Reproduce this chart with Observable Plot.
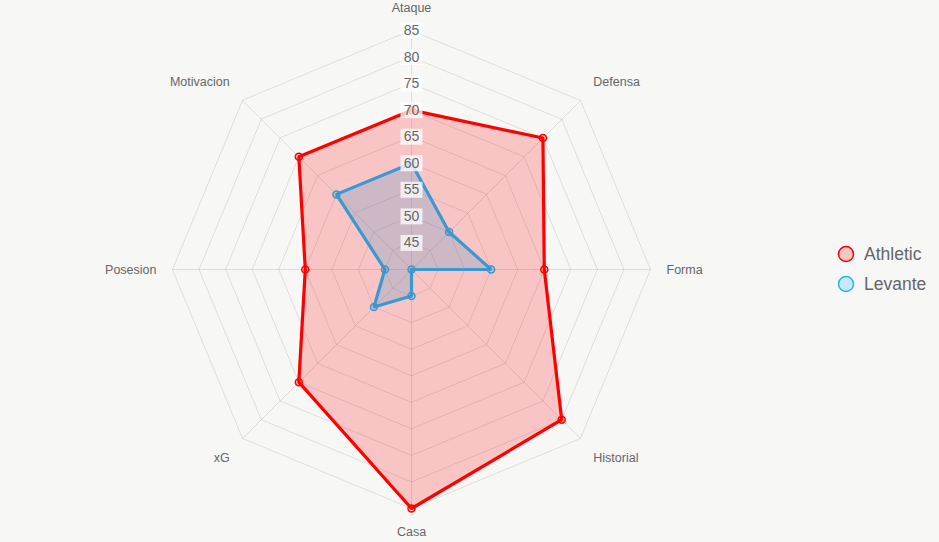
<!DOCTYPE html>
<html>
<head>
<meta charset="utf-8">
<script src="https://cdn.jsdelivr.net/npm/d3@7"></script>
<script src="https://cdn.jsdelivr.net/npm/@observablehq/plot@0.6"></script>
<style>
  html, body { margin: 0; padding: 0; background: #f7f7f6; }
  #wrap { position: relative; width: 939px; height: 542px; font-family: Arial, "Liberation Sans", sans-serif; }
  #legend { position: absolute; left: 837px; top: 239px; color: #666; font-size: 17.5px; }
  #legend .item { display: flex; align-items: center; height: 30px; }
  #legend svg { margin-right: 9px; }
</style>
</head>
<body>
<div id="wrap"><div id="chart"></div><div id="legend"></div></div>
<script>
// ---- data ----
const axes = ["Ataque", "Defensa", "Forma", "Historial", "Casa", "xG", "Posesion", "Motivacion"];
const athletic = [70, 75, 65, 80, 85, 70, 60, 70];
const levante = [60, 50, 55, 40, 45, 50, 45, 60];
const ticks = [45, 50, 55, 60, 65, 70, 75, 80, 85];
const seriesNames = ["Athletic", "Levante"];
const rMin = 40, rMax = 85;

// ---- styles ----
const W = 939, H = 542, CX = 411, CY = 269, RPX = 239;
const k = RPX / (rMax - rMin); // px per unit
const colors = {
  Athletic: {stroke: "#ff0000", fill: "rgba(255,0,0,0.2)", legendStroke: "#ff0000", legendFill: "rgba(255,0,0,0.2)"},
  Levante: {stroke: "#3a99d2", fill: "rgba(54,140,200,0.22)", legendStroke: "#1fb6ee", legendFill: "rgba(31,182,238,0.22)"}
};

const n = axes.length;
const ang = i => i * 2 * Math.PI / n;
const px = (v, i) => (v - rMin) * Math.sin(ang(i));
const py = (v, i) => (v - rMin) * Math.cos(ang(i));

const rings = ticks.flatMap(t => axes.map((a, i) => ({t, i})));
const spokes = axes.map((a, i) => ({i}));
const seriesData = [
  {name: "Athletic", values: athletic},
  {name: "Levante", values: levante}
];

const marks = [];
// grid rings
marks.push(Plot.line(rings, {x: d => px(d.t, d.i), y: d => py(d.t, d.i), z: "t", curve: "linear-closed", stroke: "#000", strokeOpacity: 0.1, strokeWidth: 1}));
// spokes
marks.push(Plot.link(spokes, {x1: 0, y1: 0, x2: d => px(rMax, d.i), y2: d => py(rMax, d.i), stroke: "#000", strokeOpacity: 0.1, strokeWidth: 1}));

// series
for (const s of seriesData) {
  const pts = s.values.map((v, i) => ({v, i}));
  const c = colors[s.name];
  marks.push(Plot.line(pts, {x: d => px(d.v, d.i), y: d => py(d.v, d.i), curve: "linear-closed", fill: c.fill, stroke: c.stroke, strokeWidth: 3.2, strokeLinejoin: "miter"}));
  marks.push(Plot.dot(pts, {x: d => px(d.v, d.i), y: d => py(d.v, d.i), r: 3.5, stroke: c.stroke, strokeWidth: 1.5, fill: c.fill}));
}

// tick label backdrops + labels
const boxSymbol = {draw(ctx) { ctx.rect(-11, -8, 22, 16); }};
marks.push(Plot.dot(ticks, {x: 0, y: d => d - rMin, symbol: boxSymbol, fill: "white", fillOpacity: 0.75, stroke: null}));
marks.push(Plot.text(ticks, {x: 0, y: d => d - rMin, text: d => String(d), fill: "#666", fontSize: 14}));

// axis labels
axes.forEach((a, i) => {
  const s = Math.sin(ang(i)), c = Math.cos(ang(i));
  const labelR = (255 + 3 * Math.abs(c)) / k;
  const diagonal = Math.abs(s) > 0.01 && Math.abs(c) > 0.01;
  const dy = diagonal ? -2 * Math.sign(c) : 0;
  const textAnchor = s > 0.01 ? "start" : s < -0.01 ? "end" : "middle";
  const lineAnchor = c > 0.01 ? "bottom" : c < -0.01 ? "top" : "middle";
  marks.push(Plot.text([a], {x: () => labelR * s, y: () => labelR * c, dy, text: d => d, textAnchor, lineAnchor, fill: "#666", fontSize: 12.5}));
});

const chart = Plot.plot({
  width: W, height: H, margin: 0,
  x: {type: "linear", domain: [-CX / k, (W - CX) / k], axis: null},
  y: {type: "linear", domain: [-(H - CY) / k, CY / k], axis: null},
  style: {background: "transparent", fontFamily: "Arial, 'Liberation Sans', sans-serif"},
  marks
});
document.getElementById("chart").appendChild(chart);

// legend
const legend = document.getElementById("legend");
for (const name of seriesNames) {
  const c = colors[name];
  const item = document.createElement("div");
  item.className = "item";
  item.innerHTML = `<svg width="18" height="18"><circle cx="9" cy="9" r="7.5" fill="${c.legendFill}" stroke="${c.legendStroke}" stroke-width="1.5"/></svg><span>${name}</span>`;
  legend.appendChild(item);
}
</script>
</body>
</html>
